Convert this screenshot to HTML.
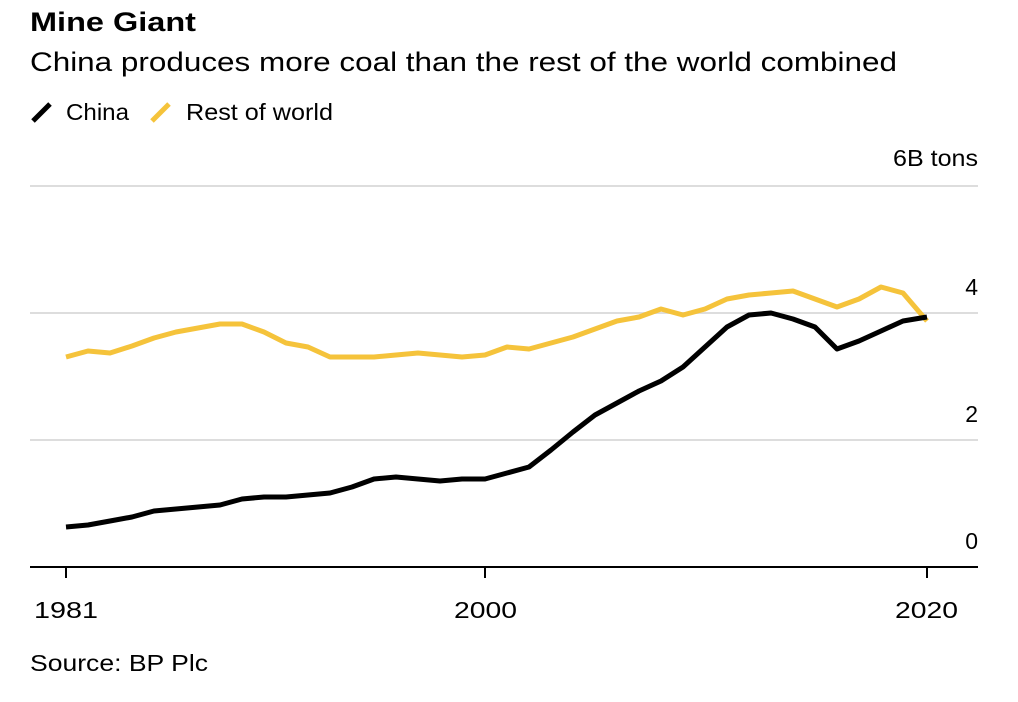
<!DOCTYPE html>
<html><head><meta charset="utf-8"><style>
body{margin:0;background:#fff;font-family:"Liberation Sans",Arial,sans-serif;}
svg text{font-family:"Liberation Sans",Arial,sans-serif;}
</style></head><body>
<svg width="1018" height="697" viewBox="0 0 1018 697" xmlns="http://www.w3.org/2000/svg">
<text x="30" y="31" font-size="27" font-weight="bold" fill="#000" textLength="166" lengthAdjust="spacingAndGlyphs">Mine Giant</text>
<text x="30" y="71" font-size="27" fill="#000" textLength="867" lengthAdjust="spacingAndGlyphs">China produces more coal than the rest of the world combined</text>
<line x1="33" y1="121" x2="50" y2="104" stroke="#000" stroke-width="5"/>
<text x="66" y="120" font-size="23" fill="#000" textLength="63" lengthAdjust="spacingAndGlyphs">China</text>
<line x1="152" y1="121" x2="169" y2="104" stroke="#f5c33b" stroke-width="5"/>
<text x="186" y="120" font-size="23" fill="#000" textLength="147" lengthAdjust="spacingAndGlyphs">Rest of world</text>
<text x="893" y="166" font-size="23" fill="#000" textLength="85" lengthAdjust="spacingAndGlyphs">6B tons</text>
<line x1="30" y1="186" x2="978" y2="186" stroke="#ddd" stroke-width="2"/>
<line x1="30" y1="313" x2="978" y2="313" stroke="#ddd" stroke-width="2"/>
<line x1="30" y1="440" x2="978" y2="440" stroke="#ddd" stroke-width="2"/>
<text x="978" y="295" font-size="23" text-anchor="end">4</text>
<text x="978" y="422" font-size="23" text-anchor="end">2</text>
<text x="978" y="549" font-size="23" text-anchor="end">0</text>
<line x1="30" y1="567" x2="978" y2="567" stroke="#000" stroke-width="2"/>
<line x1="66" y1="567" x2="66" y2="578" stroke="#000" stroke-width="2"/>
<line x1="485" y1="567" x2="485" y2="578" stroke="#000" stroke-width="2"/>
<line x1="927" y1="567" x2="927" y2="578" stroke="#000" stroke-width="2"/>
<text x="34" y="618" font-size="23" textLength="64" lengthAdjust="spacingAndGlyphs">1981</text>
<text x="454" y="618" font-size="23" textLength="63" lengthAdjust="spacingAndGlyphs">2000</text>
<text x="895" y="618" font-size="23" textLength="63" lengthAdjust="spacingAndGlyphs">2020</text>
<text x="30" y="671" font-size="23" textLength="178" lengthAdjust="spacingAndGlyphs">Source: BP Plc</text>
<polyline fill="none" stroke="#f5c33b" stroke-width="5" stroke-linejoin="round" points="66,357 88,351 110,353 132,346 154,338 176,332 198,328 220,324 242,324 264,332 286,343 308,347 330,357 352,357 374,357 396,355 418,353 440,355 462,357 485,355 507,347 529,349 551,343 573,337 595,329 617,321 639,317 661,309 683,315 705,309 727,299 749,295 771,293 793,291 815,299 837,307 859,299 881,287 903,293 927,321"/>
<polyline fill="none" stroke="#000" stroke-width="5" stroke-linejoin="round" points="66,527 88,525 110,521 132,517 154,511 176,509 198,507 220,505 242,499 264,497 286,497 308,495 330,493 352,487 374,479 396,477 418,479 440,481 462,479 485,479 507,473 529,467 551,450 573,432 595,415 617,403 639,391 661,381 683,367 705,347 727,327 749,315 771,313 793,319 815,327 837,349 859,341 881,331 903,321 927,317"/>
</svg>
</body></html>
